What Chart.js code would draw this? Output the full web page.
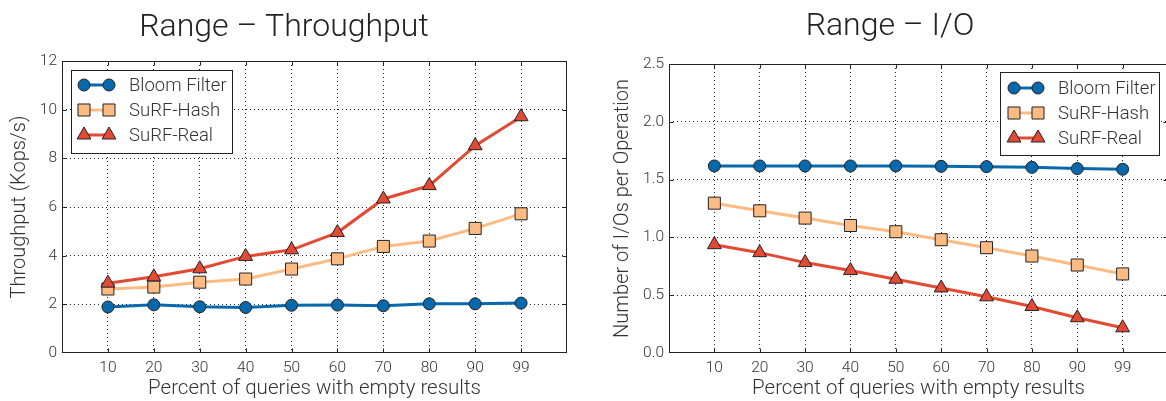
<!DOCTYPE html>
<html>
<head>
<meta charset="utf-8">
<script src="https://cdn.jsdelivr.net/npm/chart.js@4/dist/chart.umd.min.js"></script>
<style>
  html, body { margin: 0; padding: 0; background: #fff; overflow: hidden; }
  #wrap { position: relative; width: 1166px; height: 401px; overflow: hidden; }
  #c1 { position: absolute; left: 0; top: 0; }
  #c2 { position: absolute; left: 583px; top: 0; }
</style>
</head>
<body>
<div id="wrap">
  <canvas id="c1" width="583" height="401"></canvas>
  <canvas id="c2" width="600" height="401"></canvas>
</div>
<script>
// x categories: share of range queries that return nothing
const categories = ['10', '20', '30', '40', '50', '60', '70', '80', '90', '99'];
const seriesNames = ['Bloom Filter', 'SuRF-Hash', 'SuRF-Real'];

// Range throughput (Kops/s)
const throughputBloom = [1.89, 1.98, 1.90, 1.87, 1.96, 1.97, 1.94, 2.02, 2.02, 2.05];
const throughputHash  = [2.63, 2.71, 2.91, 3.04, 3.45, 3.87, 4.38, 4.60, 5.12, 5.72];
const throughputReal  = [2.87, 3.13, 3.46, 3.97, 4.24, 4.95, 6.33, 6.88, 8.52, 9.71];

// Range I/Os per operation
const ioBloom = [1.618, 1.618, 1.618, 1.618, 1.618, 1.615, 1.612, 1.606, 1.595, 1.589];
const ioHash  = [1.296, 1.230, 1.167, 1.103, 1.049, 0.980, 0.911, 0.839, 0.761, 0.684];
const ioReal  = [0.937, 0.868, 0.782, 0.713, 0.638, 0.563, 0.486, 0.402, 0.305, 0.218];

// y tick labels
const throughputTicks = ['0', '2', '4', '6', '8', '10', '12'];
const ioTicks = ['0.0', '0.5', '1.0', '1.5', '2.0', '2.5'];

const FONT = 'Roboto, "Open Sans", sans-serif';
const TEXT = '#333';
const LINE_STYLES = [
  { color: '#0868ac', pointStyle: 'circle',   pointRadius: 6 },
  { color: '#fdbb84', pointStyle: 'rect',     pointRadius: 8.5 },
  { color: '#e34a33', pointStyle: 'triangle', pointRadius: 8 }
];

function toPoints(values) {
  return values.map((v, i) => ({ x: i + 1, y: v }));
}

function makeDatasets(seriesValues) {
  return seriesValues.map((values, i) => ({
    label: seriesNames[i],
    data: toPoints(values),
    borderColor: LINE_STYLES[i].color,
    backgroundColor: LINE_STYLES[i].color,
    borderWidth: 3,
    pointStyle: LINE_STYLES[i].pointStyle,
    pointRadius: LINE_STYLES[i].pointRadius,
    pointHoverRadius: LINE_STYLES[i].pointRadius,
    pointBackgroundColor: LINE_STYLES[i].color,
    pointBorderColor: '#222',
    pointBorderWidth: 1,
    tension: 0,
    order: 3 - i
  }));
}

function drawMarker(ctx, style, x, y, r, fill) {
  ctx.save();
  ctx.fillStyle = fill;
  ctx.strokeStyle = '#222';
  ctx.lineWidth = 1;
  ctx.beginPath();
  if (style === 'circle') {
    ctx.arc(x, y, r, 0, Math.PI * 2);
  } else if (style === 'rect') {
    const s = r * Math.SQRT1_2;
    ctx.rect(x - s, y - s, 2 * s, 2 * s);
  } else {
    for (let k = 0; k < 3; k++) {
      const a = k * (2 * Math.PI / 3);
      const vx = x + Math.sin(a) * r;
      const vy = y - Math.cos(a) * r;
      if (k === 0) ctx.moveTo(vx, vy); else ctx.lineTo(vx, vy);
    }
    ctx.closePath();
  }
  ctx.fill();
  ctx.stroke();
  ctx.restore();
}

// Frame, inward tick marks, boxed legend and panel title
const panelDecor = {
  id: 'panelDecor',
  afterDatasetsDraw(chart, args, opts) {
    const ctx = chart.ctx;
    const a = chart.chartArea;
    const xs = chart.scales.x, ys = chart.scales.y;
    ctx.save();
    ctx.strokeStyle = '#222';
    ctx.lineWidth = 1;
    const L = Math.round(a.left) + 0.5, R = Math.round(a.right) - 0.5;
    const T = Math.round(a.top) + 0.5, B = Math.round(a.bottom) - 0.5;
    ctx.strokeRect(L, T, R - L, B - T);
    ctx.beginPath();
    ys.ticks.forEach(t => {
      if (t.value <= ys.min || t.value >= ys.max) return;
      const p = Math.round(ys.getPixelForValue(t.value)) + 0.5;
      ctx.moveTo(L, p); ctx.lineTo(L + 4, p);
      ctx.moveTo(R, p); ctx.lineTo(R - 4, p);
    });
    xs.ticks.forEach(t => {
      if (t.value <= xs.min || t.value >= xs.max) return;
      const p = Math.round(xs.getPixelForValue(t.value)) + 0.5;
      ctx.moveTo(p, B); ctx.lineTo(p, B - 4);
      ctx.moveTo(p, T); ctx.lineTo(p, T + 4);
    });
    ctx.stroke();

    // legend box
    const lg = opts.legend;
    const bx = lg.corner === 'left' ? a.left + lg.inset : a.right - lg.inset - lg.width;
    const by = a.top + lg.insetTop;
    ctx.fillStyle = '#fff';
    ctx.fillRect(bx, by, lg.width, lg.height);
    ctx.strokeRect(Math.round(bx) + 0.5, Math.round(by) + 0.5, lg.width, lg.height);
    chart.data.datasets.forEach((ds, i) => {
      const y = by + lg.firstRow + i * lg.rowGap;
      const x1 = bx + lg.markerX1, x2 = bx + lg.markerX2;
      ctx.beginPath();
      ctx.strokeStyle = ds.borderColor;
      ctx.lineWidth = 3;
      ctx.moveTo(x1, y); ctx.lineTo(x2, y);
      ctx.stroke();
      const r = ds.pointStyle === 'circle' ? 6 : ds.pointStyle === 'rect' ? 8.5 : 8;
      drawMarker(ctx, ds.pointStyle, x1, y, r, ds.backgroundColor);
      drawMarker(ctx, ds.pointStyle, x2, y, r, ds.backgroundColor);
      ctx.fillStyle = TEXT;
      ctx.font = '300 18.5px ' + FONT;
      ctx.textBaseline = 'middle';
      ctx.textAlign = 'left';
      ctx.fillText(ds.label, bx + lg.textX, y + 1);
    });

    // panel title
    ctx.fillStyle = '#222';
    ctx.font = '300 32px ' + FONT;
    ctx.textAlign = 'center';
    ctx.textBaseline = 'alphabetic';
    ctx.fillText(opts.title, opts.titleX, opts.titleY);
    ctx.restore();
  }
};

function makeChart(canvasId, seriesValues, cfg) {
  return new Chart(document.getElementById(canvasId), {
    type: 'line',
    data: { datasets: makeDatasets(seriesValues) },
    plugins: [panelDecor],
    options: {
      responsive: false,
      animation: false,
      devicePixelRatio: 1,
      layout: { padding: { top: cfg.top, right: cfg.right, left: 0, bottom: 0 } },
      plugins: {
        legend: { display: false },
        tooltip: { enabled: false },
        title: { display: false },
        panelDecor: {
          title: cfg.title, titleX: cfg.titleX, titleY: cfg.titleY,
          legend: cfg.legend
        }
      },
      scales: {
        x: {
          type: 'linear',
          min: 0, max: 11,
          afterFit(s) { s.height = 48; },
          afterBuildTicks(s) {
            s.ticks = [];
            for (let v = 0; v <= 11; v++) s.ticks.push({ value: v });
          },
          ticks: {
            stepSize: 1, autoSkip: false, maxRotation: 0, padding: 6,
            color: TEXT, font: { family: FONT, size: 15.5, weight: 300 },
            callback: v => categories[v - 1] !== undefined ? categories[v - 1] : ''
          },
          grid: {
            drawTicks: false,
            lineWidth: 1,
            color: c => (c.tick && c.tick.value > 0 && c.tick.value < 11) ? '#222' : 'rgba(0,0,0,0)'
          },
          border: { display: false, dash: [1, 3] },
          title: {
            display: true, text: 'Percent of queries with empty results',
            color: TEXT, font: { family: FONT, size: 20.5, weight: 300 },
            padding: { top: 0, bottom: 0 }
          }
        },
        y: {
          min: 0, max: cfg.yMax,
          afterFit(s) { s.width = cfg.left; },
          ticks: {
            stepSize: cfg.yStep, padding: 5,
            color: TEXT, font: { family: FONT, size: 15.5, weight: 300 },
            callback: (v, i) => cfg.yLabels[i]
          },
          grid: {
            drawTicks: false,
            lineWidth: 1,
            color: c => (c.tick && c.tick.value > 0 && c.tick.value < cfg.yMax - 1e-9) ? '#222' : 'rgba(0,0,0,0)'
          },
          border: { display: false, dash: [1, 3] },
          title: {
            display: true, text: cfg.yTitle,
            color: TEXT, font: { family: FONT, size: 20, weight: 300 },
            padding: { top: cfg.yTitlePad, bottom: 0 }
          }
        }
      }
    }
  });
}

function build() {
  makeChart('c1', [throughputBloom, throughputHash, throughputReal], {
    top: 61, right: 16, left: 62,
    yMax: 12, yStep: 2, yLabels: throughputTicks,
    yTitle: 'Throughput (Kops/s)', yTitlePad: 8,
    title: 'Range \u2013 Throughput', titleX: 284, titleY: 36,
    legend: { corner: 'left', inset: 9, insetTop: 9, width: 161, height: 83,
              firstRow: 15, rowGap: 25, markerX1: 13, markerX2: 38, textX: 58 }
  });
  makeChart('c2', [ioBloom, ioHash, ioReal], {
    top: 64, right: 15, left: 86,
    yMax: 2.5, yStep: 0.5, yLabels: ioTicks,
    yTitle: 'Number of I/Os per Operation', yTitlePad: 28,
    title: 'Range \u2013 I/O', titleX: 307, titleY: 35,
    legend: { corner: 'right', inset: 9, insetTop: 8, width: 159, height: 83,
              firstRow: 16, rowGap: 25, markerX1: 14, markerX2: 38, textX: 58 }
  });
}

if (document.fonts && document.fonts.load) {
  Promise.all([
    document.fonts.load('300 16px Roboto'),
    document.fonts.load('400 16px Roboto')
  ]).then(build, build);
} else {
  build();
}
</script>
</body>
</html>
